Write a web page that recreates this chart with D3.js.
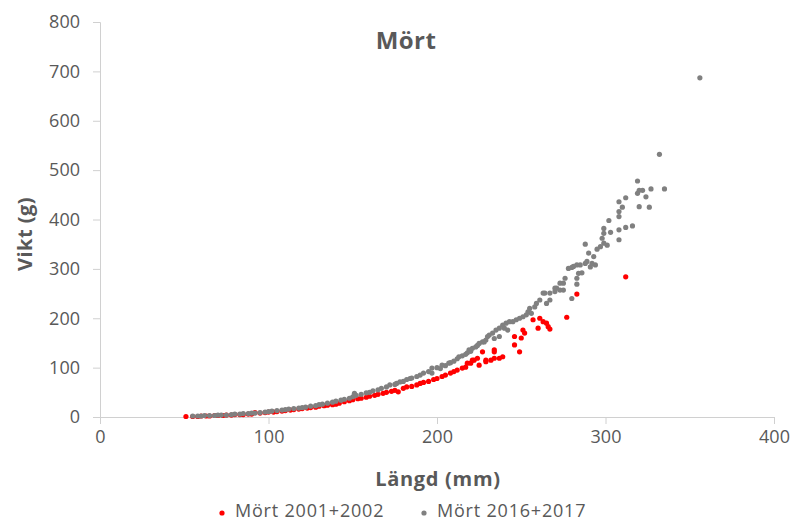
<!DOCTYPE html>
<html>
<head>
<meta charset="utf-8">
<script src="https://cdn.jsdelivr.net/npm/d3@7"></script>
<style>
	body { margin: 0; background: #fff; }
	text { font-family: "Open Sans", sans-serif; fill: #595959; }
</style>
</head>
<body>
<div id="chart"></div>
<script>
// [längd mm, vikt g]
const mort2001 = [
	[51, 1], [55, 1], [58, 1], [60, 2], [63, 2], [65, 2], [68, 3], [70, 3], [73, 3], [75, 4],
	[78, 4], [80, 5], [83, 5], [85, 5], [88, 6], [90, 6], [92, 9], [95, 8], [98, 9], [100, 10],
	[103, 10], [105, 11], [108, 12], [110, 13], [113, 14], [115, 15], [118, 16], [120, 17],
	[123, 18], [125, 19], [128, 20], [130, 22], [133, 23], [135, 24], [138, 25], [140, 26],
	[142, 28], [145, 31], [148, 33], [150, 35], [153, 37], [155, 38], [158, 40], [160, 42],
	[163, 44], [165, 46], [168, 48], [170, 50], [173, 52], [175, 54], [177, 51], [180, 58],
	[182, 61], [185, 62], [188, 65], [190, 68], [192, 70], [195, 72], [198, 76], [200, 78],
	[203, 82], [205, 85], [208, 89], [210, 92], [212, 95], [215, 99], [217, 101], [218, 109],
	[220, 109], [221, 115], [222, 115], [224, 119], [225, 105], [227, 132], [229, 112],
	[229, 115], [232, 115], [234, 119], [234, 132], [234, 136], [237, 119], [239, 122],
	[246, 146], [246, 163], [249, 132], [250, 160], [251, 176], [252, 170], [257, 197],
	[260, 180], [261, 200], [263, 193], [265, 190], [266, 183], [267, 178], [277, 202],
	[283, 249], [312, 284]
];

const mort2016 = [
	[55, 2], [58, 2], [60, 2], [62, 3], [65, 3], [68, 3], [70, 4], [72, 4], [75, 4], [78, 5],
	[80, 6], [83, 6], [85, 7], [88, 7], [90, 8], [92, 8], [95, 9], [98, 10], [100, 11],
	[102, 12], [105, 13], [108, 14], [110, 15], [112, 16], [115, 17], [118, 18], [120, 19],
	[122, 20], [125, 22], [128, 23], [130, 25], [132, 26], [135, 28], [138, 30], [140, 32],
	[143, 34], [145, 36], [148, 38], [150, 41], [151, 48], [152, 44], [155, 46], [158, 49],
	[160, 50], [162, 53], [165, 55], [167, 58], [170, 61], [172, 65], [175, 66], [176, 68],
	[178, 71], [180, 72], [182, 76], [184, 78], [185, 79], [188, 82], [190, 85], [192, 89],
	[195, 92], [197, 89], [197, 99], [200, 100], [202, 98], [203, 105], [205, 104],
	[207, 109], [208, 110], [210, 113], [212, 118], [213, 122], [215, 124], [217, 127],
	[218, 130], [219, 136], [220, 133], [221, 139], [223, 142], [224, 145], [225, 149],
	[227, 152], [228, 152], [229, 156], [230, 163], [231, 166], [233, 170], [234, 159],
	[235, 176], [237, 163], [237, 180], [239, 186], [240, 180], [241, 190], [242, 176],
	[243, 193], [245, 193], [247, 197], [249, 200], [251, 203], [253, 207], [254, 213],
	[255, 220], [256, 210], [258, 223], [259, 230], [261, 237], [263, 251], [264, 251],
	[265, 230], [267, 237], [267, 251], [270, 254], [270, 261], [271, 261], [273, 257],
	[273, 271], [275, 257], [275, 271], [276, 281], [278, 301], [280, 240], [280, 303],
	[281, 305], [283, 269], [283, 281], [283, 308], [284, 291], [285, 308], [286, 292],
	[288, 311], [288, 350], [289, 315], [290, 332], [291, 304], [292, 311], [293, 325],
	[294, 308], [295, 340], [297, 345], [298, 362], [299, 352], [299, 372], [299, 382],
	[301, 348], [302, 398], [303, 374], [308, 359], [308, 379], [308, 406], [308, 416],
	[308, 436], [310, 425], [312, 384], [312, 444], [316, 387], [319, 453], [319, 478],
	[320, 426], [320, 459], [322, 459], [324, 446], [326, 425], [327, 462], [332, 532],
	[335, 462], [356, 687]
];

const seriesNames = ["Mört 2001+2002", "Mört 2016+2017"];
const seriesColors = ["#ff0000", "#808080"];
const xTicks = [0, 100, 200, 300, 400];
const yTicks = [0, 100, 200, 300, 400, 500, 600, 700, 800];

const width = 794;
const height = 526;
const margin = { top: 22, right: 20, bottom: 109, left: 100 };

const svg = d3.select("#chart")
	.append("svg")
	.attr("width", width)
	.attr("height", height);

const x = d3.scaleLinear().domain([0, 400]).range([margin.left, 774]);
const y = d3.scaleLinear().domain([0, 800]).range([417, margin.top]);

// axes
const xAxis = svg.append("g")
	.attr("transform", `translate(0, ${y(0)})`)
	.call(d3.axisBottom(x).tickValues(xTicks).tickSize(7).tickPadding(6));
const yAxis = svg.append("g")
	.attr("transform", `translate(${x(0)}, 0)`)
	.call(d3.axisLeft(y).tickValues(yTicks).tickSize(7).tickPadding(13));

[xAxis, yAxis].forEach((g) => {
	g.selectAll("path, line").attr("stroke", "#d0d0d0");
	g.selectAll("text")
		.style("font-size", "18px")
		.attr("fill", "#595959");
});

// points
const series = [mort2001, mort2016];
series.forEach((data, i) => {
	svg.append("g")
		.selectAll("circle")
		.data(data)
		.join("circle")
		.attr("cx", (d) => x(d[0]))
		.attr("cy", (d) => y(d[1]))
		.attr("r", 2.6)
		.attr("fill", seriesColors[i]);
});

// titles
svg.append("text")
	.attr("x", 406)
	.attr("y", 49)
	.attr("text-anchor", "middle")
	.style("font-size", "24px")
	.style("font-weight", "bold")
	.style("letter-spacing", "0.4px")
	.text("Mört");

svg.append("text")
	.attr("x", 438)
	.attr("y", 486)
	.attr("text-anchor", "middle")
	.style("font-size", "20px")
	.style("font-weight", "bold")
	.style("letter-spacing", "0.7px")
	.text("Längd (mm)");

svg.append("text")
	.attr("transform", "translate(32, 234) rotate(-90)")
	.attr("text-anchor", "middle")
	.style("font-size", "20px")
	.style("font-weight", "bold")
	.style("letter-spacing", "0.5px")
	.text("Vikt (g)");

// legend
const legendX = [222, 424];
seriesNames.forEach((name, i) => {
	svg.append("circle")
		.attr("cx", legendX[i])
		.attr("cy", 513)
		.attr("r", 2.6)
		.attr("fill", seriesColors[i]);
	svg.append("text")
		.attr("x", legendX[i] + 13)
		.attr("y", 517)
		.style("font-size", "18px")
		.style("letter-spacing", "0.8px")
		.text(name);
});
</script>
</body>
</html>
